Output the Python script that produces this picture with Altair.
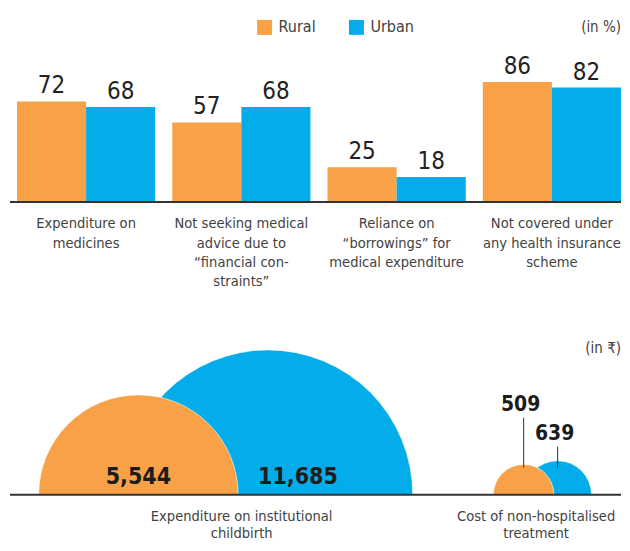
import math
import altair as alt
import pandas as pd

# ---------------- data ----------------
series = ["Rural", "Urban"]
series_colors = ["#F8A147", "#04ADEA"]

bar_categories = [
    "Expenditure on\nmedicines",
    "Not seeking medical\nadvice due to\n\u201cfinancial con-\nstraints\u201d",
    "Reliance on\n\u201cborrowings\u201d for\nmedical expenditure",
    "Not covered under\nany health insurance\nscheme",
]
rural_pct = [72, 57, 25, 86]
urban_pct = [68, 68, 18, 82]

cost_categories = [
    "Expenditure on institutional\nchildbirth",
    "Cost of non-hospitalised\ntreatment",
]
rural_cost = [5544, 509]
urban_cost = [11685, 639]

# ---------------- layout ----------------
W = 614
H_TOP, H_BOT = 300, 235
FONT = "DejaVu Sans Condensed, Liberation Sans Narrow, Roboto, sans-serif"
TXT = "#424242"
DARK = "#222222"
LBL = 14.6

top_df = pd.DataFrame(
    [{"category": c, "series": s, "value": v}
     for c, r, u in zip(bar_categories, rural_pct, urban_pct)
     for s, v in zip(series, [r, u])]
)
top_cat_df = pd.DataFrame({"category": bar_categories})
zero_df = pd.DataFrame({"v": [0]})

color = alt.Color(
    "series:N",
    scale=alt.Scale(domain=series, range=series_colors),
    legend=alt.Legend(
        orient="none", legendX=249, legendY=11, direction="horizontal",
        title=None, symbolType="square", symbolSize=225, symbolStrokeWidth=0,
        symbolOpacity=1, labelFont=FONT, labelFontSize=16, labelColor=TXT,
        labelOffset=6, columnPadding=32,
    ),
)

# ---------------- top: grouped bars ----------------
y_top_scale = alt.Scale(domain=[0, 100], range=[194, 54])
x_top = alt.X("category:N", sort=bar_categories,
              scale=alt.Scale(range=[9, 614], paddingInner=0.11, paddingOuter=0),
              axis=None)
xoff_top = alt.XOffset("series:N", sort=series,
                       scale=alt.Scale(paddingInner=0, paddingOuter=0))
y_top = alt.Y("value:Q", scale=y_top_scale, axis=None)

bars = alt.Chart(top_df).mark_bar().encode(
    x=x_top, xOffset=xoff_top, y=y_top, color=color
)
bar_vals = alt.Chart(top_df).mark_text(
    baseline="bottom", dy=-3, font=FONT, fontSize=24, color=DARK
).encode(x=x_top, xOffset=xoff_top, y=y_top, text="value:Q")
top_base = alt.Chart(zero_df).mark_rule(color="#333333", strokeWidth=2).encode(
    x=alt.value(2), x2=alt.value(W), y=alt.Y("v:Q", scale=y_top_scale, axis=None)
)
top_labels = alt.Chart(top_cat_df).transform_calculate(v="0").mark_text(
    baseline="top", dy=14, lineBreak="\n", lineHeight=19.5,
    font=FONT, fontSize=LBL, color=TXT, clip=True
).encode(x=x_top, y=alt.Y("v:Q", scale=y_top_scale, axis=None), text="category:N")
unit_top = alt.Chart(zero_df).mark_text(
    align="right", baseline="middle", font=FONT, fontSize=15, color=TXT, text="(in %)"
).encode(x=alt.value(W), y=alt.value(19))

top_chart = alt.layer(bars, bar_vals, top_base, top_labels, unit_top).properties(
    width=W, height=H_TOP
)

# ---------------- bottom: half circles (area ~ value) ----------------
R_MAX = 145.0
V_MAX = max(rural_cost + urban_cost)
pair_anchor = [195.5, 533.5]
OVERLAP = 0.265

rows = []
for i, c in enumerate(cost_categories):
    rr = R_MAX * math.sqrt(rural_cost[i] / V_MAX)
    ru = R_MAX * math.sqrt(urban_cost[i] / V_MAX)
    half = OVERLAP * (rr + ru)
    rows.append({"category": c, "group": i, "series": "Urban", "value": urban_cost[i], "cx": pair_anchor[i] + half, "v": 0})
    rows.append({"category": c, "group": i, "series": "Rural", "value": rural_cost[i], "cx": pair_anchor[i] - half, "v": 0})
cost_df = pd.DataFrame(rows)

x_bot = alt.X("cx:Q", scale=alt.Scale(domain=[0, W], range=[0, W], nice=False, zero=False), axis=None)
y_bot_scale = alt.Scale(domain=[0, 1], range=[187, 0])
y_bot = alt.Y("v:Q", scale=y_bot_scale, axis=None)

arcs = alt.Chart(cost_df).mark_arc(
    theta=1.5 * math.pi, theta2=2.5 * math.pi,
    stroke="white", strokeWidth=1, strokeOpacity=0.6
).encode(
    x=x_bot, y=y_bot,
    radius=alt.Radius("value:Q", stack=None,
                      scale=alt.Scale(type="sqrt", domain=[0, V_MAX], range=[0, R_MAX], zero=True)),
    color=color,
)

bot_base = alt.Chart(zero_df).mark_rule(color="#333333", strokeWidth=2).encode(
    x=alt.value(2), x2=alt.value(W), y=y_bot
)

val_font = dict(font=FONT, fontWeight="bold", color="#1c1c1c")
def one(g, s):
    return alt.Chart(cost_df).transform_filter(
        f"datum.group == {g} && datum.series == '{s}'"
    )

in_rural = one(0, "Rural").mark_text(
    baseline="middle", dy=-18, fontSize=23, **val_font
).encode(x=x_bot, y=y_bot, text=alt.Text("value:Q", format=","))
in_urban = one(0, "Urban").mark_text(
    baseline="middle", dy=-18, dx=30, fontSize=23, **val_font
).encode(x=x_bot, y=y_bot, text=alt.Text("value:Q", format=","))
out_rural = one(1, "Rural").mark_text(
    baseline="middle", dy=-90, dx=-3, fontSize=21, **val_font
).encode(x=x_bot, y=y_bot, text=alt.Text("value:Q", format=","))
out_urban = one(1, "Urban").mark_text(
    baseline="middle", dy=-61, dx=-3, fontSize=21, **val_font
).encode(x=x_bot, y=y_bot, text=alt.Text("value:Q", format=","))

lead_rural = one(1, "Rural").mark_rule(
    color="#333333", strokeWidth=1, yOffset=-77, y2Offset=-27
).encode(x=x_bot, y=y_bot, y2="v:Q")
lead_urban = one(1, "Urban").mark_rule(
    color="#333333", strokeWidth=1, yOffset=-48, y2Offset=-27
).encode(x=x_bot, y=y_bot, y2="v:Q")

label_x = [234, 529]
bot_labels = [
    alt.Chart(zero_df).mark_text(
        baseline="top", dy=14, lineBreak="\n", lineHeight=17.5,
        font=FONT, fontSize=LBL, color=TXT, text=c, clip=True
    ).encode(x=alt.value(lx), y=y_bot)
    for c, lx in zip(cost_categories, label_x)
]
unit_bot = alt.Chart(zero_df).mark_text(
    align="right", baseline="middle", font=FONT, fontSize=15, color=TXT, text="(in \u20b9)"
).encode(x=alt.value(W), y=alt.value(40))

bottom_chart = alt.layer(arcs, bot_base, in_rural, in_urban, lead_rural, lead_urban,
                         out_rural, out_urban, unit_bot, *bot_labels).properties(
    width=W, height=H_BOT
)

chart = alt.vconcat(top_chart, bottom_chart, spacing=0).properties(
    padding=0
).configure_view(stroke=None)

chart.save("out.html", embed_options={"renderer": "svg", "actions": False})
